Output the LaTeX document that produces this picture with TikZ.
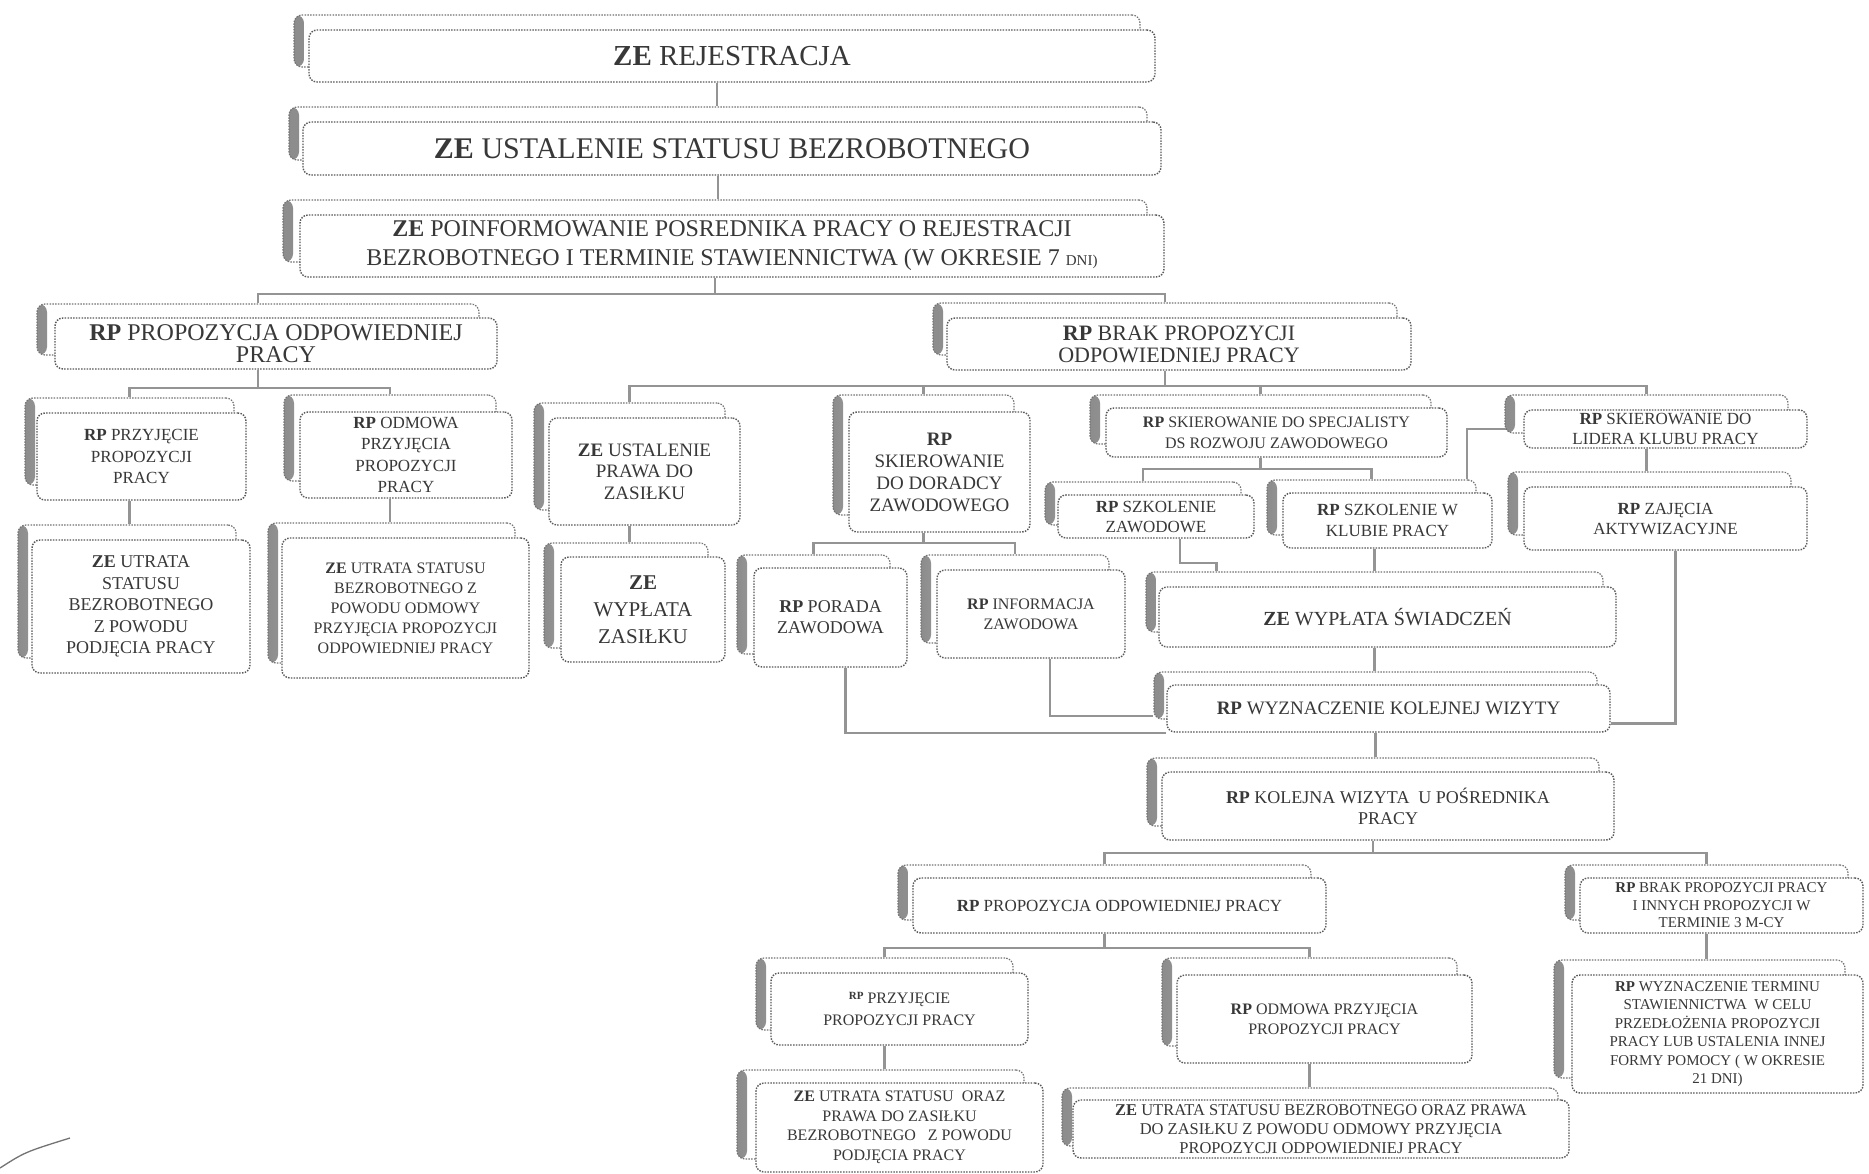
\documentclass[tikz,border=0pt]{standalone}
\usepackage{fontspec}
\setmainfont{Liberation Serif}
\pgfdeclarelayer{bgw}
\pgfdeclarelayer{bg}
\pgfsetlayers{bgw,bg,main}
\tikzset{
 backbox/.style={draw=black!55, dash pattern=on 1.5pt off 1.3pt, line width=1.2pt, rounded corners=8pt, fill=white, inner sep=0pt,
   path picture={\shade[left color=black!45, right color=white] (path picture bounding box.north west) rectangle ([xshift=10pt]path picture bounding box.south west);}},
 frontbox/.style={draw=black!65, dash pattern=on 1.5pt off 1.3pt, line width=1.4pt, rounded corners=8pt, fill=white, inner sep=1pt, align=center, text=black!78},
 conn/.style={draw=black!42, line width=2.2pt}
}
\newcommand{\mkbox}[9]{%
 \node[backbox, minimum width={(#4-#2)*1pt}, minimum height={(#5-#3)*1pt}] (#1b) at ({(#2+#4)/2+#6},{(#3+#5)/2+#7}) {};
 \node[frontbox, minimum width={(#4-#2)*1pt}, minimum height={(#5-#3)*1pt}, font=\fontsize#8\selectfont] (#1) at ({(#2+#4)/2},{(#3+#5)/2}) {#9};
}
\begin{document}
\begin{tikzpicture}[x=1pt,y=-1pt]
\useasboundingbox (0,0) rectangle (1869,1173);
\begin{pgfonlayer}{bgw}
\fill[white] (0,0) rectangle (1869,1173);
\end{pgfonlayer}

\mkbox{bA}{309}{30}{1155}{82}{-15}{-15}{{29}{34}}{\textbf{ZE} REJESTRACJA}
\mkbox{bB}{303}{122}{1161}{175}{-14}{-15}{{30}{35}}{\textbf{ZE} USTALENIE STATUSU BEZROBOTNEGO}
\mkbox{bC}{300}{215}{1164}{277}{-17}{-15}{{24}{29}}{\textbf{ZE} POINFORMOWANIE POSREDNIKA PRACY O REJESTRACJI\\BEZROBOTNEGO I TERMINIE STAWIENNICTWA (W OKRESIE 7 {\fontsize{15}{18}\selectfont DNI)}}

\mkbox{pl}{55}{318}{497}{369}{-18}{-14}{{24}{22}}{\textbf{RP} PROPOZYCJA ODPOWIEDNIEJ\\PRACY}
\mkbox{br}{947}{318}{1411}{370}{-14}{-15}{{22}{22}}{\textbf{RP} BRAK PROPOZYCJI\\ODPOWIEDNIEJ PRACY}

\mkbox{pa}{37}{413}{246}{500}{-12}{-15}{{17}{21.5}}{\textbf{RP} PRZYJĘCIE\\PROPOZYCJI\\PRACY}
\mkbox{po}{300}{412}{512}{498}{-16}{-17}{{17}{21.5}}{\textbf{RP} ODMOWA\\PRZYJĘCIA\\PROPOZYCJI\\PRACY}
\mkbox{ua}{32}{540}{250}{673}{-14}{-15}{{18}{21.5}}{\textbf{ZE} UTRATA\\STATUSU\\BEZROBOTNEGO\\Z POWODU\\PODJĘCIA PRACY}
\mkbox{uo}{282}{538}{529}{678}{-14}{-15}{{16}{20}}{\textbf{ZE} UTRATA STATUSU\\BEZROBOTNEGO Z\\POWODU ODMOWY\\PRZYJĘCIA PROPOZYCJI\\ODPOWIEDNIEJ PRACY}

\mkbox{up}{549}{418}{740}{525}{-15}{-15}{{19}{21.5}}{\textbf{ZE} USTALENIE\\PRAWA DO\\ZASIŁKU}
\mkbox{wz}{561}{557}{725}{662}{-17}{-14}{{21}{27}}{\textbf{ZE}\\WYPŁATA\\ZASIŁKU}
\mkbox{sd}{849}{412}{1030}{532}{-16}{-17}{{19}{22}}{\textbf{RP}\\SKIEROWANIE\\DO DORADCY\\ZAWODOWEGO}
\mkbox{pz}{754}{568}{907}{667}{-17}{-13}{{18}{21}}{\textbf{RP} PORADA\\ZAWODOWA}
\mkbox{iz}{937}{570}{1125}{658}{-16}{-15}{{16}{20}}{\textbf{RP} INFORMACJA\\ZAWODOWA}

\mkbox{ss}{1106}{408}{1447}{457}{-16}{-13}{{16}{21}}{\textbf{RP} SKIEROWANIE DO SPECJALISTY\\DS ROZWOJU ZAWODOWEGO}
\mkbox{sl}{1524}{410}{1807}{448}{-19}{-15}{{17}{20}}{\textbf{RP} SKIEROWANIE DO\\LIDERA KLUBU PRACY}
\mkbox{sz}{1058}{495}{1254}{538}{-13}{-13}{{17}{20}}{\textbf{RP} SZKOLENIE\\ZAWODOWE}
\mkbox{sk}{1283}{493}{1492}{548}{-16}{-13}{{17}{21}}{\textbf{RP} SZKOLENIE W\\KLUBIE PRACY}
\mkbox{za}{1524}{487}{1807}{550}{-16}{-15}{{17}{20}}{\textbf{RP} ZAJĘCIA\\AKTYWIZACYJNE}
\mkbox{ws}{1159}{587}{1616}{647}{-13}{-15}{{20}{24}}{\textbf{ZE} WYPŁATA ŚWIADCZEŃ}
\mkbox{wk}{1167}{685}{1610}{732}{-13}{-13}{{19}{22}}{\textbf{RP} WYZNACZENIE KOLEJNEJ WIZYTY}
\mkbox{kw}{1162}{772}{1614}{840}{-15}{-14}{{18}{21}}{\textbf{RP} KOLEJNA WIZYTA \ U POŚREDNIKA\\PRACY}

\mkbox{lp}{913}{878}{1326}{933}{-15}{-13}{{17}{20}}{\textbf{RP} PROPOZYCJA ODPOWIEDNIEJ PRACY}
\mkbox{lb}{1580}{878}{1863}{933}{-15}{-13}{{15}{17.5}}{\textbf{RP} BRAK PROPOZYCJI PRACY\\I INNYCH PROPOZYCJI W\\TERMINIE 3 M-CY}
\mkbox{la}{771}{973}{1028}{1045}{-15}{-15}{{16}{22}}{\raisebox{4pt}{\fontsize{11}{12}\selectfont\textbf{RP}} PRZYJĘCIE\\PROPOZYCJI PRACY}
\mkbox{lo}{1177}{975}{1472}{1063}{-15}{-17}{{16}{20}}{\textbf{RP} ODMOWA PRZYJĘCIA\\PROPOZYCJI PRACY}
\mkbox{lu}{756}{1083}{1043}{1172}{-19}{-13}{{16}{19.5}}{\textbf{ZE} UTRATA STATUSU \ ORAZ\\PRAWA DO ZASIŁKU\\BEZROBOTNEGO \ \ Z POWODU\\PODJĘCIA PRACY}
\mkbox{lr}{1073}{1100}{1569}{1158}{-11}{-12}{{16.5}{19}}{\textbf{ZE} UTRATA STATUSU BEZROBOTNEGO ORAZ PRAWA\\DO ZASIŁKU Z POWODU ODMOWY PRZYJĘCIA\\PROPOZYCJI ODPOWIEDNIEJ PRACY}
\mkbox{lw}{1572}{975}{1863}{1093}{-18}{-15}{{15}{18.5}}{\textbf{RP} WYZNACZENIE TERMINU\\STAWIENNICTWA \ W CELU\\PRZEDŁOŻENIA PROPOZYCJI\\PRACY LUB USTALENIA INNEJ\\FORMY POMOCY ( W OKRESIE\\21 DNI)}

\begin{pgfonlayer}{bg}
\draw[conn] (bA.south -| bAb.north) -- (bBb.north -| bAb.north);
\draw[conn] (bB.south -| bBb.north) -- (bCb.north -| bBb.north);
\draw[conn] (bC.south -| bCb.north) -- ++(0,16) coordinate (j3);
\draw[conn] (plb.north) |- (j3) -| (brb.north);
\draw[conn] (pl.south -| plb.north) -- ++(0,18) coordinate (jp);
\draw[conn] (pab.north) |- (jp) -| (pob.north);
\draw[conn] (pa.south -| pab.north) -- (uab.north -| pab.north);
\draw[conn] (po.south -| pob.north) -- (uob.north -| pob.north);
\draw[conn] (br.south -| brb.north) -- ++(0,15) coordinate (jb);
\draw[conn] (upb.north) |- (jb) -| (slb.north);
\draw[conn] (sdb.north) -- (sdb.north |- jb);
\draw[conn] (ssb.north) -- (ssb.north |- jb);
\draw[conn] (up.south -| upb.north) -- (wzb.north -| upb.north);
\draw[conn] (sd.south -| sdb.north) -- ++(0,10) coordinate (jd);
\draw[conn] (pzb.north) |- (jd) -| (izb.north);
\draw[conn] (ss.south -| ssb.north) -- ++(0,11) coordinate (js);
\draw[conn] (szb.north) |- (js) -| (skb.north);
\draw[conn] (sl.south -| slb.north) -- (zab.north -| slb.north);
\draw[conn] (sl.west) -| ([xshift=-10pt]skb.north east);
\draw[conn] ([xshift=24pt]sz.south) -- ++(0,24) -| ([xshift=71pt]wsb.north west);
\draw[conn] (sk.south -| wsb.north) -- (wsb.north);
\draw[conn] (ws.south -| wsb.north) -- (wkb.north -| wsb.north);
\draw[conn] ([xshift=15pt]pz.south) |- (wk.south west);
\draw[conn] ([xshift=19pt]iz.south) |- ([yshift=4pt]wkb.south west);
\draw[conn] ([xshift=10pt]za.south) |- ([yshift=-15pt]wk.east);
\draw[conn] (wk.south -| wkb.north) -- (kwb.north -| wkb.north);
\draw[conn] (kw.south -| kwb.north) -- ++(0,12) coordinate (jk);
\draw[conn] (lpb.north) |- (jk) -| (lbb.north);
\draw[conn] (lp.south -| lpb.north) -- ++(0,14) coordinate (jl);
\draw[conn] (lab.north) |- (jl) -| (lob.north);
\draw[conn] (la.south -| lab.north) -- (lub.north -| lab.north);
\draw[conn] (lo.south -| lob.north) -- (lrb.north -| lob.north);
\draw[conn] (lb.south -| lbb.north) -- (lwb.north -| lbb.north);
\end{pgfonlayer}

\draw[black!55, line width=1.3pt] (0,1168) .. controls (25,1152) .. (70,1138);
\end{tikzpicture}
\end{document}
